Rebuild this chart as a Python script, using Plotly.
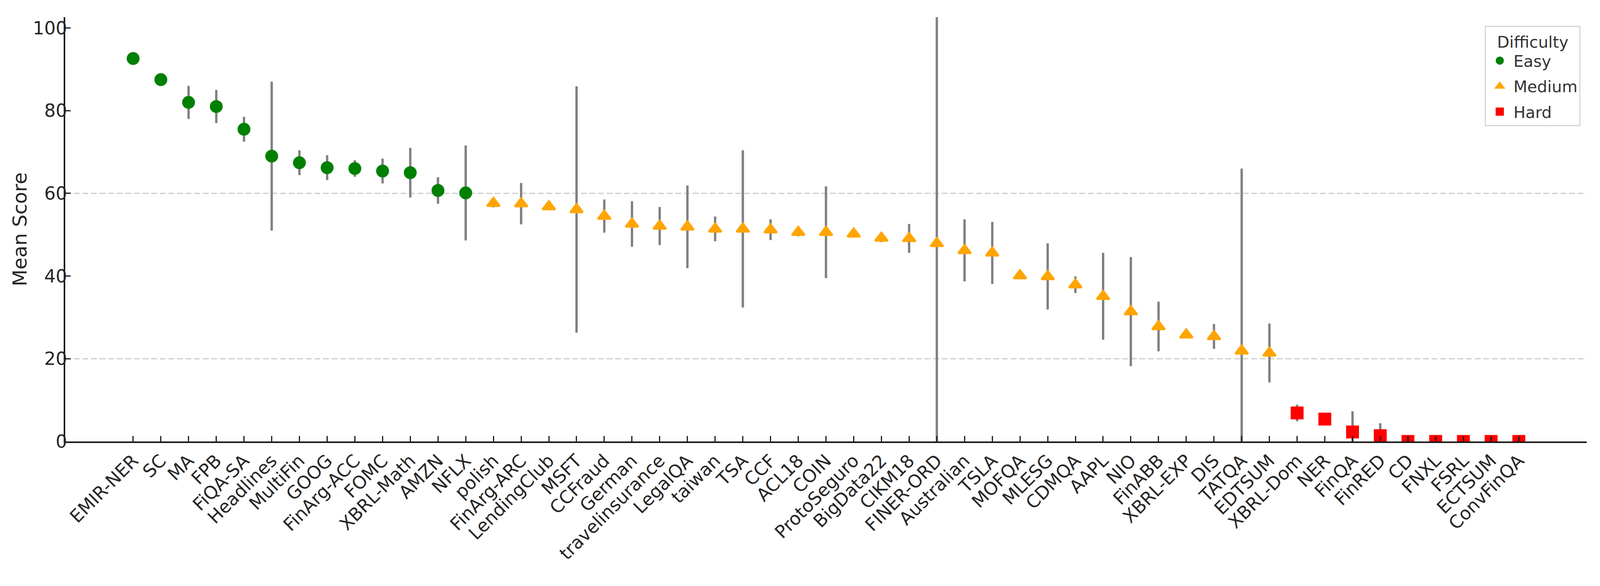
import plotly.graph_objects as go

# ---- data ----
easy_names = ["EMIR-NER", "SC", "MA", "FPB", "FiQA-SA", "Headlines", "MultiFin", "GOOG",
              "FinArg-ACC", "FOMC", "XBRL-Math", "AMZN", "NFLX"]
easy_mean = [92.6, 87.5, 82.0, 81.0, 75.5, 69.0, 67.4, 66.2, 66.0, 65.4, 65.0, 60.7, 60.1]
easy_err = [0, 0, 4.0, 4.0, 3.0, 18.0, 3.0, 3.0, 2.0, 3.0, 6.0, 3.2, 11.5]

medium_names = ["polish", "FinArg-ARC", "LendingClub", "MSFT", "CCFraud", "German",
                "travelinsurance", "LegalQA", "taiwan", "TSA", "CCF", "ACL18", "COIN",
                "ProtoSeguro", "BigData22", "CIKM18", "FINER-ORD", "Australian", "TSLA",
                "MOFQA", "MLESG", "CDMQA", "AAPL", "NIO", "FinABB", "XBRL-EXP", "DIS",
                "TATQA", "EDTSUM"]
medium_mean = [57.6, 57.5, 56.8, 56.1, 54.5, 52.6, 52.1, 51.9, 51.4, 51.4, 51.2, 50.6, 50.6,
               50.2, 49.2, 49.1, 47.9, 46.2, 45.6, 40.1, 39.9, 37.9, 35.1, 31.4, 27.8, 25.8,
               25.4, 21.9, 21.4]
medium_err = [1.0, 5.0, 0, 29.8, 4.0, 5.5, 4.6, 10.0, 3.0, 19.0, 2.5, 1.0, 11.1,
              0, 1.0, 3.5, 55.0, 7.5, 7.5, 0.8, 8.0, 2.0, 10.5, 13.2, 6.0, 0,
              3.0, 44.1, 7.1]

hard_names = ["XBRL-Dom", "NER", "FinQA", "FinRED", "CD", "FNXL", "FSRL", "ECTSUM", "ConvFinQA"]
hard_mean = [6.9, 5.4, 2.3, 1.4, 0.0, 0.0, 0.0, 0.0, 0.0]
hard_err = [2.0, 0, 5.0, 3.0, 0, 0, 0, 0, 0]

threshold_lines = [20, 60]
y_ticks = [0, 20, 40, 60, 80, 100]

all_names = easy_names + medium_names + hard_names
n = len(all_names)

W, H = 5400, 1500
ML, MR, MT, MB = 220, 45, 44, 370
FONT = "DejaVu Sans"
TXT = "#262626"
ERR_COLOR = "#808080"

fig = go.Figure()

groups = [
    ("Easy", easy_names, easy_mean, easy_err, "#008000", "circle", 28),
    ("Medium", medium_names, medium_mean, medium_err, "#FFA500", "triangle-up", 28),
    ("Hard", hard_names, hard_mean, hard_err, "#FF0000", "square", 28),
]
for label, names, means, errs, color, symbol, size in groups:
    fig.add_trace(go.Scatter(
        x=names, y=means, mode="markers", name=label, legendgroup=label,
        marker=dict(color=color, symbol=symbol, size=size, line=dict(width=5, color=color)),
        error_y=dict(type="data", array=errs, visible=True, color=ERR_COLOR,
                     thickness=6, width=0),
        cliponaxis=True,
    ))

for yv in threshold_lines:
    fig.add_hline(y=yv, line=dict(color="#d3d3d3", width=3.5, dash="15px,7px"), layer="below")

fig.update_layout(
    width=W, height=H,
    paper_bgcolor="white", plot_bgcolor="white",
    margin=dict(l=ML, r=MR, t=MT, b=MB, autoexpand=False),
    font=dict(family=FONT, color=TXT, size=46),
    showlegend=True,
    legend=dict(
        title=dict(text="Difficulty", side="top center", font=dict(size=41, color="#333333")),
        font=dict(size=41, color="#333333"),
        x=0.996, y=0.98, xanchor="right", yanchor="top",
        bordercolor="#d6d6d6", borderwidth=3, bgcolor="white",
        itemsizing="trace", itemwidth=60, tracegroupgap=9,
    ),
)

fig.update_xaxes(
    type="category", categoryorder="array", categoryarray=all_names,
    range=[-2.45, (n - 1) + 2.45],
    tickangle=-45, tickfont=dict(size=46, color=TXT, family=FONT),
    showline=True, linecolor="#1a1a1a", linewidth=4, mirror=False,
    ticks="inside", ticklen=14, tickwidth=3, tickcolor="#1a1a1a",
    showgrid=False, zeroline=False,
)
fig.update_yaxes(
    range=[0, 102.6], tickvals=y_ticks,
    tickfont=dict(size=46, color=TXT, family=FONT),
    ticklabelstandoff=-18,
    title=dict(text="Mean Score", font=dict(size=50, color=TXT, family=FONT), standoff=23),
    showline=True, linecolor="#1a1a1a", linewidth=4, mirror=False,
    ticks="inside", ticklen=14, tickwidth=3, tickcolor="#1a1a1a",
    showgrid=False, zeroline=False,
)

# The browser window may be smaller than the requested size (e.g. capped width);
# resize the figure so it fills the window, keeping the layout proportions.
fit_script = """
(function(){
  var gd = document.getElementById('{plot_id}');
  document.documentElement.style.margin = '0';
  document.body.style.margin = '0';
  document.documentElement.style.overflow = 'hidden';
  document.body.style.overflow = 'hidden';
  var iw = window.innerWidth, ih = window.innerHeight;
  var sx = iw / %(W)d, sy = ih / %(H)d;
  if (Math.abs(sx - 1) > 0.002 || Math.abs(sy - 1) > 0.002) {
    var so = Math.max(0, (%(ML)d * sx - 105) - (65 * sx + 27));
    return Plotly.relayout(gd, {
      'width': iw, 'height': ih,
      'margin.l': %(ML)d * sx, 'margin.r': %(MR)d * sx,
      'margin.t': %(MT)d * sy, 'margin.b': %(MB)d * sy,
      'yaxis.title.standoff': so
    });
  }
})();
""" % dict(W=W, H=H, ML=ML, MR=MR, MT=MT, MB=MB)

fig.write_html("out.html", config={"responsive": False, "displayModeBar": False},
               post_script=fit_script)
